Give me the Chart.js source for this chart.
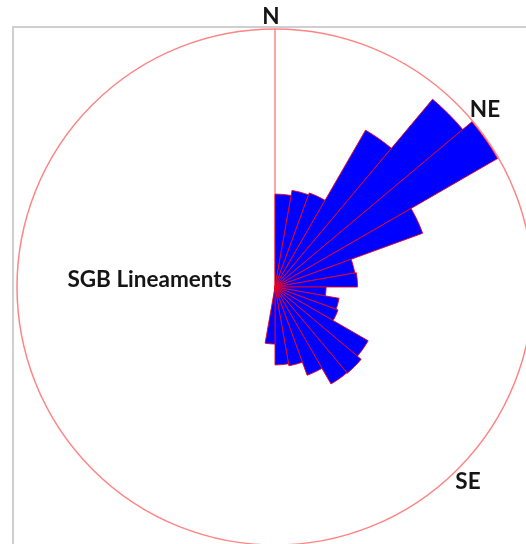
<!DOCTYPE html>
<html>
<head>
<meta charset="utf-8">
<script src="https://cdn.jsdelivr.net/npm/chart.js@4/dist/chart.umd.min.js"></script>
<style>
  html, body { margin: 0; padding: 0; background: #fff; overflow: hidden; width: 526px; height: 544px; }
  #frame { position: absolute; left: 12px; top: 26px; width: 600px; height: 600px;
           border-left: 2px solid #cfcfcf; border-top: 2px solid #cfcfcf; }
  #rose { position: absolute; left: 0; top: 0; }
</style>
</head>
<body>
<div id="frame"></div>
<canvas id="rose" width="560" height="560"></canvas>
<script>
// Strike classes, 10° bins measured clockwise from north
const binLabels = ['0–10°', '10–20°', '20–30°', '30–40°', '40–50°', '50–60°', '60–70°',
                   '70–80°', '80–90°', '90–100°', '100–110°', '110–120°', '120–130°',
                   '130–140°', '140–150°', '150–160°', '160–170°', '170–180°', '180–190°'];
// Relative frequency of lineaments in each bin (% of the outer circle)
const frequency = [36.0, 38.0, 38.8, 70.2, 95.0, 99.6, 60.9, 31.4, 32.0, 19.8,
                   25.2, 26.0, 41.7, 43.6, 43.4, 36.4, 31.0, 30.2, 22.1];
const binWidthDeg = 10;
const outerCircleValue = 100;
const compassLabels = ['N', 'NE', 'SE'];
const diagramTitle = 'SGB Lineaments';

// Compass letters and the title, written on the canvas after the rose
const annotations = {
  id: 'annotations',
  afterDraw(chart) {
    const ctx = chart.ctx;
    ctx.save();
    ctx.fillStyle = '#151515';
    ctx.font = 'bold 22.5px Lato, "Open Sans", sans-serif';
    ctx.textAlign = 'center';
    ctx.textBaseline = 'alphabetic';
    ctx.fillText(compassLabels[0], 271, 24);
    ctx.fillText(compassLabels[1], 485, 117);
    ctx.fillText(compassLabels[2], 468, 489);
    ctx.fillText(diagramTitle, 149.5, 287);
    ctx.restore();
  }
};

new Chart(document.getElementById('rose'), {
  type: 'polarArea',
  data: {
    labels: binLabels,
    datasets: [{
      data: frequency,
      angle: binWidthDeg,
      backgroundColor: '#0000ff',
      borderColor: 'rgba(235, 0, 30, 0.9)',
      borderWidth: 1
    }]
  },
  options: {
    responsive: false,
    animation: false,
    events: [],
    layout: { padding: { left: 17, right: 27, top: 29, bottom: 15 } },
    plugins: { legend: { display: false }, tooltip: { enabled: false } },
    scales: {
      r: {
        min: 0,
        max: outerCircleValue,
        startAngle: 0,
        ticks: { display: false, stepSize: outerCircleValue },
        pointLabels: { display: false },
        grid: { circular: true, color: '#ff8585', lineWidth: 1.5 },
        angleLines: {
          display: true,
          color: (c) => (c.index === 0 ? '#ff6a6a' : 'rgba(0,0,0,0)'),
          lineWidth: 1.2
        }
      }
    }
  },
  plugins: [annotations]
});
</script>
</body>
</html>
